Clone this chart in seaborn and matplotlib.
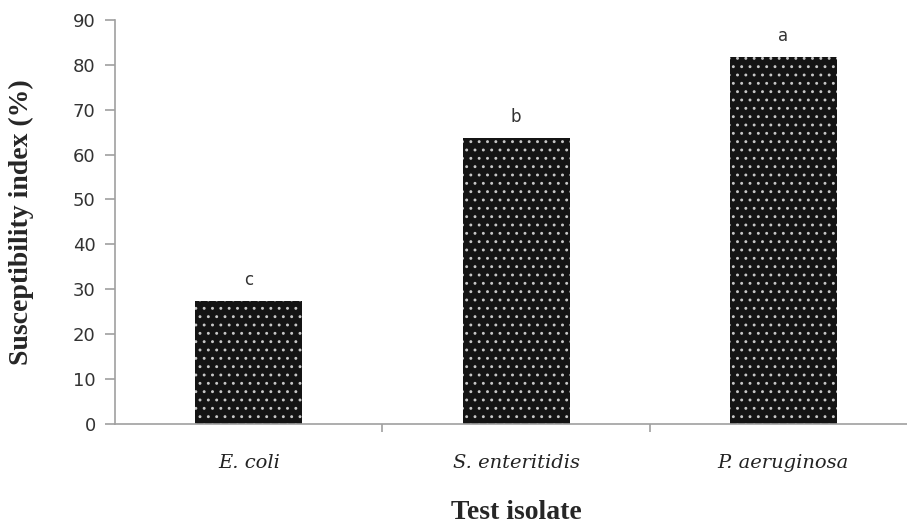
import matplotlib
matplotlib.use("Agg")
import matplotlib.pyplot as plt
import seaborn as sns
import pandas as pd

# Data
isolates = ["E. coli", "S. enteritidis", "P. aeruginosa"]
susceptibility = [27.3, 63.6, 81.8]
letters = ["c", "b", "a"]

df = pd.DataFrame({"isolate": isolates, "value": susceptibility})

sns.set_style("white")
plt.rcParams["hatch.linewidth"] = 0.9

fig = plt.figure(figsize=(9.07, 5.24), dpi=100)
ax = fig.add_axes([0.127, 0.191, 0.884, 0.771])

sns.barplot(data=df, x="isolate", y="value", color="#141414", width=0.4,
            saturation=1, ax=ax)
for patch in ax.patches:
    patch.set_hatch("..")
    patch.set_edgecolor("#c8c8c8")
    patch.set_linewidth(0)

# significance letters
for i, (v, lab) in enumerate(zip(susceptibility, letters)):
    ax.text(i, v + 4.7, lab, ha="center", va="center", fontsize=12,
            family="DejaVu Sans", color="#333333")

ax.set_xlim(-0.5, 2.5)
ax.set_ylim(0, 90)
ax.set_yticks(range(0, 91, 10))
ax.tick_params(axis="y", left=True, labelsize=13, colors="#333333", length=7,
               color="#a0a0a0", pad=7, width=1.2)
ax.tick_params(axis="x", which="major", bottom=False, length=0, pad=22)
ax.set_xticks([0.5, 1.5], minor=True)
ax.tick_params(axis="x", which="minor", bottom=True, length=6, width=1.2,
               color="#a0a0a0", direction="out")
for lab in ax.get_xticklabels():
    lab.set_family("DejaVu Serif")
    lab.set_style("italic")
    lab.set_fontsize(14)
    lab.set_color("#222222")

for side in ["top", "right"]:
    ax.spines[side].set_visible(False)
for side in ["left", "bottom"]:
    ax.spines[side].set_color("#a0a0a0")
    ax.spines[side].set_linewidth(1.2)

ax.set_ylabel("Susceptibility index (%)", fontsize=20, fontweight="bold",
              family="Liberation Serif", labelpad=28)
ax.set_xlabel("Test isolate", fontsize=20, fontweight="bold",
              family="Liberation Serif", labelpad=20)

fig.savefig("out.png", dpi=100)
